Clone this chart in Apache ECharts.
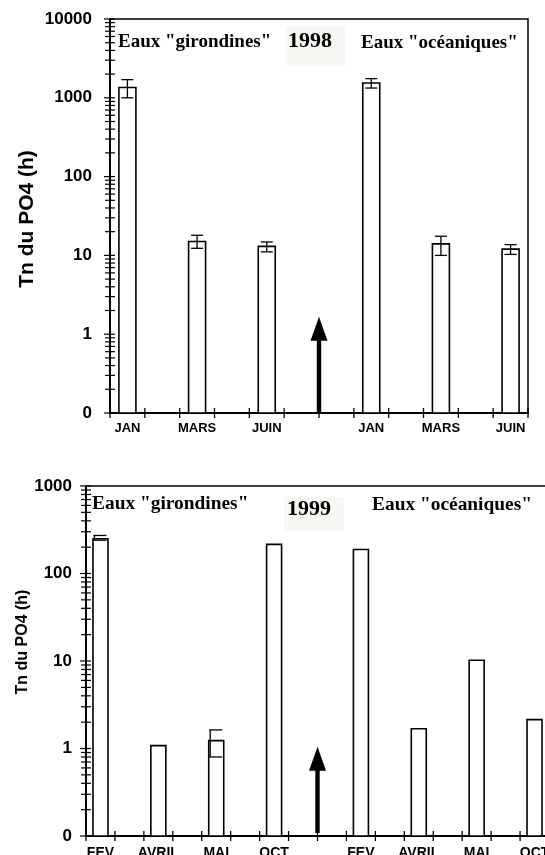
<!DOCTYPE html>
<html><head><meta charset="utf-8">
<script src="https://cdn.jsdelivr.net/npm/echarts@6/dist/echarts.min.js"></script>
<style>html,body{margin:0;padding:0;background:#fff}#c{width:545px;height:855px}</style>
</head><body><div id="c"></div>
<script>
// ---------- 1998 ----------
const cats1998 = ['JAN','','MARS','','JUIN','','','JAN','','MARS','','JUIN'];
const tn1998 = [1350,null,15,null,13,null,null,1540,null,14,null,12];
const err1998Low = [1000,null,12.3,null,11.1,null,null,1330,null,10,null,10.3];
const err1998High = [1700,null,18,null,14.8,null,null,1750,null,17.5,null,13.7];
const arrow1998 = [[5, 1.66]];          // [category after which arrow sits, arrow tip value]
const yRange1998 = [0.1, 10000];

// ---------- 1999 ----------
const cats1999 = ['FEV','','AVRIL','','MAI','','OCT','','','FEV','','AVRIL','','MAI','','OCT'];
const tn1999 = [250,null,1.08,null,1.23,null,215,null,null,188,null,1.68,null,10.2,null,2.14];
const err1999Low = [240,null,null,null,0.8,null,null,null,null,null,null,null,null,null,null,null];
const err1999High = [272,null,null,null,1.63,null,null,null,null,null,null,null,null,null,null,null];
const arrow1999 = [[7, 1.05]];
const yRange1999 = [0.1, 1000];

const yTitle = 'Tn du PO4 (h)';
const labelsGir = 'Eaux "girondines"';
const labelsOce = 'Eaux "océaniques"';

const SANS = '"Liberation Sans", Arial, sans-serif';
const SERIF = '"Liberation Serif", "Times New Roman", serif';

function yTickValues(range){
  const out = [];
  const lo = Math.round(Math.log10(range[0])), hi = Math.round(Math.log10(range[1]));
  for (let d = lo; d <= hi; d++) {
    for (let m = 1; m <= 9; m++) {
      const v = m * Math.pow(10, d);
      if (v <= range[1] * 1.0001) out.push([0, v, m === 1 ? 1 : 0]);
    }
  }
  return out;
}

function barSeries(gi, values, w, minV){
  const data = [];
  values.forEach((v,i)=>{ if (v != null) data.push([i, v]); });
  return {type:'custom', xAxisIndex:gi, yAxisIndex:gi, data, clip:false, z:3,
    renderItem(params, api){
      const i = api.value(0), v = api.value(1);
      const t = api.coord([i, v]), b = api.coord([i, minV]);
      return {type:'rect', shape:{x:t[0]-w/2, y:t[1], width:w, height:b[1]-t[1]},
        style:{fill:'#fff', stroke:'#000', lineWidth:1.6}};
    }};
}

function errSeries(gi, lows, highs, shift, capL, capR){
  const data = [];
  lows.forEach((l,i)=>{ if (l != null && highs[i] != null) data.push([i, l, highs[i]]); });
  return {type:'custom', xAxisIndex:gi, yAxisIndex:gi, data, clip:false, z:4,
    encode:{x:0, y:[1,2]},
    renderItem(params, api){
      const i = api.value(0);
      const lo = api.coord([i, api.value(1)]), hi = api.coord([i, api.value(2)]);
      const x = lo[0] + shift;
      const st = {stroke:'#000', lineWidth:1.3};
      return {type:'group', children:[
        {type:'line', shape:{x1:x, y1:hi[1], x2:x, y2:lo[1]}, style:st},
        {type:'line', shape:{x1:x-capL, y1:hi[1], x2:x+capR, y2:hi[1]}, style:st},
        {type:'line', shape:{x1:x-capL, y1:lo[1], x2:x+capR, y2:lo[1]}, style:st}
      ]};
    }};
}

function arrowSeries(gi, arr, minV, baseLift){
  return {type:'custom', xAxisIndex:gi, yAxisIndex:gi, data:arr, clip:false, z:5,
    renderItem(params, api){
      const i = api.value(0);
      const band = api.size([1, 0])[0];
      const b = api.coord([i, minV]), t = api.coord([i, api.value(1)]);
      const x = b[0] + band/2;
      const headH = 24, headW = 17;
      return {type:'group', children:[
        {type:'rect', shape:{x:x-2.2, y:t[1]+headH-1, width:4.4, height:(b[1]-baseLift)-(t[1]+headH-1)}, style:{fill:'#000'}},
        {type:'polygon', shape:{points:[[x, t[1]], [x-headW/2, t[1]+headH], [x+headW/2, t[1]+headH]]}, style:{fill:'#000'}}
      ]};
    }};
}

function yTickSeries(gi, range){
  return {type:'custom', xAxisIndex:gi, yAxisIndex:gi, data:yTickValues(range), clip:false, z:6,
    renderItem(params, api){
      const p = api.coord([0, api.value(1)]);
      const x0 = params.coordSys.x;
      const major = api.value(2) === 1;
      return {type:'line', shape:{x1:x0-(major?6:5), y1:p[1], x2:x0+5, y2:p[1]},
        style:{stroke:'#000', lineWidth:1.2}};
    }};
}

function xTickSeries(gi, n, minV){
  const data = [];
  for (let b = 0; b <= n; b++) data.push([0, minV, b]);
  return {type:'custom', xAxisIndex:gi, yAxisIndex:gi, data, clip:false, z:6,
    renderItem(params, api){
      const b = api.value(2);
      const band = api.size([1, 0])[0];
      const c = api.coord([Math.min(b, n-1), minV]);
      const x = b < n ? c[0]-band/2 : c[0]+band/2;
      return {type:'line', shape:{x1:x, y1:c[1]-5, x2:x, y2:c[1]+5},
        style:{stroke:'#000', lineWidth:1.3}};
    }};
}

function xAxis(gi, cats, fs, margin){
  return {type:'category', gridIndex:gi, data:cats, boundaryGap:true,
    axisLine:{show:true, lineStyle:{color:'#000', width:2}},
    axisTick:{show:false},
    axisLabel:{interval:0, color:'#000', fontFamily:SANS, fontWeight:'bold', fontSize:fs, margin:margin, hideOverlap:false},
    splitLine:{show:false}};
}
function yAxis(gi, range, margin){
  return {type:'log', logBase:10, gridIndex:gi, min:range[0], max:range[1],
    axisLine:{show:true, lineStyle:{color:'#000', width:2}},
    axisTick:{show:false}, minorTick:{show:false}, splitLine:{show:false},
    axisLabel:{color:'#000', fontFamily:SANS, fontWeight:'bold', fontSize:17, margin:margin,
      formatter: v => (v < 1 ? '0' : String(Math.round(v)))}};
}

const chart = echarts.init(document.getElementById('c'), null, {renderer:'canvas'});
chart.setOption({
  animation:false,
  backgroundColor:'#fff',
  grid:[
    {left:110, top:19, width:418, height:394, outerBoundsMode:'none', containLabel:false, show:true, borderColor:'#000', borderWidth:1.5, backgroundColor:'transparent'},
    {left:86, top:486, width:463, height:350, outerBoundsMode:'none', containLabel:false, show:true, borderColor:'#000', borderWidth:1.5, backgroundColor:'transparent'}
  ],
  xAxis:[xAxis(0, cats1998, 13, 9), xAxis(1, cats1999, 14, 10)],
  yAxis:[yAxis(0, yRange1998, 18), yAxis(1, yRange1999, 14)],
  series:[
    barSeries(0, tn1998, 17, yRange1998[0]),
    errSeries(0, err1998Low, err1998High, 0, 6, 6),
    arrowSeries(0, arrow1998, yRange1998[0], 0),
    yTickSeries(0, yRange1998),
    xTickSeries(0, cats1998.length, yRange1998[0]),
    barSeries(1, tn1999, 15, yRange1999[0]),
    errSeries(1, err1999Low, err1999High, -6, 1, 12),
    arrowSeries(1, arrow1999, yRange1999[0], 3),
    yTickSeries(1, yRange1999),
    xTickSeries(1, cats1999.length, yRange1999[0])
  ],
  graphic:[
    {type:'rect', shape:{x:286, y:27, width:59, height:39}, style:{fill:'#f8f7f4'}, z:1},
    {type:'rect', shape:{x:284, y:497, width:60, height:34}, style:{fill:'#f8f7f4'}, z:1},
    {type:'text', x:118, y:42, z:10, style:{text:labelsGir, fontFamily:SERIF, fontWeight:'bold', fontSize:19, fill:'#000', verticalAlign:'middle'}},
    {type:'text', x:288, y:41, z:10, style:{text:'1998', fontFamily:SERIF, fontWeight:'bold', fontSize:22, fill:'#000', verticalAlign:'middle'}},
    {type:'text', x:361, y:43, z:10, style:{text:labelsOce, fontFamily:SERIF, fontWeight:'bold', fontSize:19, fill:'#000', verticalAlign:'middle'}},
    {type:'text', x:92, y:504, z:10, style:{text:labelsGir, fontFamily:SERIF, fontWeight:'bold', fontSize:19.4, fill:'#000', verticalAlign:'middle'}},
    {type:'text', x:287, y:509, z:10, style:{text:'1999', fontFamily:SERIF, fontWeight:'bold', fontSize:22, fill:'#000', verticalAlign:'middle'}},
    {type:'text', x:372, y:505, z:10, style:{text:labelsOce, fontFamily:SERIF, fontWeight:'bold', fontSize:19.4, fill:'#000', verticalAlign:'middle'}},
    {type:'text', x:27, y:219, rotation:Math.PI/2, z:10, style:{text:yTitle, fontFamily:SANS, fontWeight:'bold', fontSize:21, fill:'#000', align:'center', verticalAlign:'middle'}},
    {type:'text', x:23, y:642, rotation:Math.PI/2, z:10, style:{text:yTitle, fontFamily:SANS, fontWeight:'bold', fontSize:16, fill:'#000', align:'center', verticalAlign:'middle'}}
  ]
});
</script>
</body></html>
